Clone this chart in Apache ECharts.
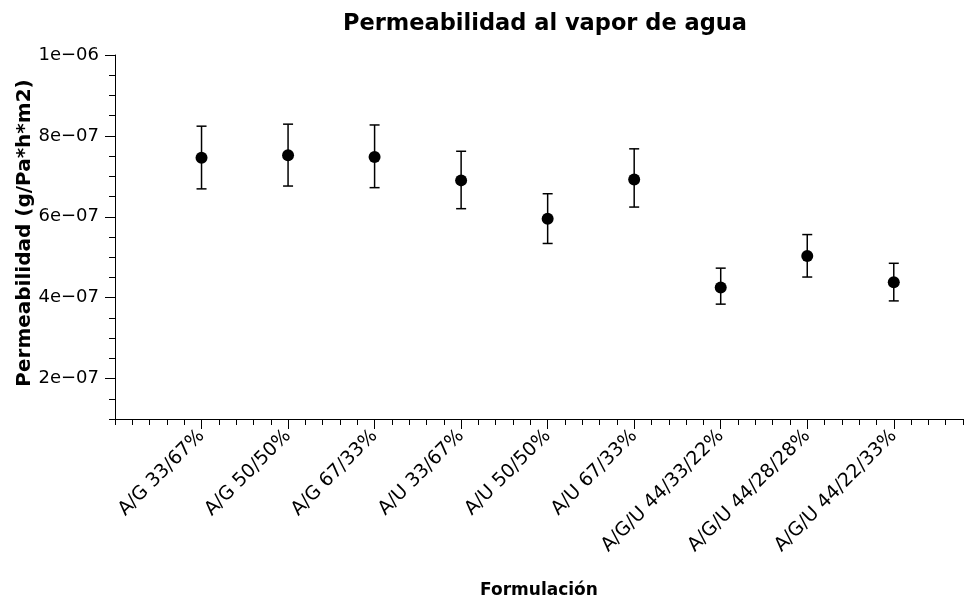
<!DOCTYPE html>
<html>
<head>
<meta charset="utf-8">
<script src="https://cdn.jsdelivr.net/npm/echarts@6/dist/echarts.min.js"></script>
<style>
  html, body { margin: 0; padding: 0; background: #fff; }
  #chart { width: 969px; height: 602px; }
</style>
</head>
<body>
<div id="chart"></div>
<script>
const categories = [
  'A/G 33/67%', 'A/G 50/50%', 'A/G 67/33%',
  'A/U 33/67%', 'A/U 50/50%', 'A/U 67/33%',
  'A/G/U 44/33/22%', 'A/G/U 44/28/28%', 'A/G/U 44/22/33%'
]
const means = [7.46e-7, 7.52e-7, 7.48e-7, 6.90e-7, 5.95e-7, 6.92e-7, 4.25e-7, 5.03e-7, 4.38e-7]
const upper = [8.24e-7, 8.29e-7, 8.27e-7, 7.62e-7, 6.57e-7, 7.68e-7, 4.73e-7, 5.56e-7, 4.85e-7]
const lower = [6.69e-7, 6.76e-7, 6.72e-7, 6.20e-7, 5.34e-7, 6.24e-7, 3.84e-7, 4.51e-7, 3.92e-7]
const yTicks = [2e-7, 4e-7, 6e-7, 8e-7, 1e-6]

const FONT = 'DejaVu Sans'
const xPos = categories.map((c, i) => i + 1)

// 2e-07 style, with a real minus sign
const sci = (v) => {
  const exp = Math.floor(Math.log10(v) + 1e-9)
  const mant = Math.round(v / Math.pow(10, exp))
  const e = Math.abs(exp)
  return mant + 'e' + (exp < 0 ? '\u2212' : '+') + (e < 10 ? '0' + e : e)
}

const chart = echarts.init(document.getElementById('chart'), null, { renderer: 'canvas' })

const tickLine = { lineStyle: { color: '#000', width: 1 } }

chart.setOption({
  animation: false,
  backgroundColor: '#fff',
  title: {
    text: 'Permeabilidad al vapor de agua',
    left: 540,
    top: 8,
    textAlign: 'center',
    textStyle: { fontFamily: FONT, fontSize: 22.5, fontWeight: 'bold', color: '#000' }
  },
  grid: { left: 115, top: 55, right: 6, bottom: 183, outerBoundsMode: 'none' },
  xAxis: [
    {
      type: 'value',
      min: 0,
      max: 9.8,
      interval: 1,
      position: 'bottom',
      name: 'Formulación',
      nameLocation: 'middle',
      nameGap: 163,
      nameTextStyle: { fontFamily: FONT, fontSize: 17, fontWeight: 'bold', color: '#000' },
      axisLine: { show: true, onZero: false, lineStyle: { color: '#000', width: 1 } },
      axisTick: { show: true, length: 10, customValues: xPos, ...tickLine },
      axisLabel: {
        customValues: xPos,
        rotate: 45,
        margin: 14,
        fontFamily: FONT,
        fontSize: 19,
        color: '#000',
        formatter: (v) => categories[Math.round(v) - 1] || ''
      },
      splitLine: { show: false }
    },
    {
      type: 'value',
      min: 0,
      max: 9.8,
      interval: 0.2,
      position: 'bottom',
      axisLine: { show: false },
      axisTick: { show: true, length: 6, ...tickLine },
      axisLabel: { show: false },
      splitLine: { show: false }
    }
  ],
  yAxis: [
    {
      type: 'value',
      min: 1e-7,
      max: 1e-6,
      interval: 1e-7,
      position: 'left',
      name: 'Permeabilidad (g/Pa*h*m2)',
      nameLocation: 'middle',
      nameGap: 80,
      nameMoveOverlap: false,
      nameTextStyle: { fontFamily: FONT, fontSize: 20, fontWeight: 'bold', color: '#000', padding: [0, 0, 0, 8] },
      axisLine: { show: true, onZero: false, lineStyle: { color: '#000', width: 1 } },
      axisTick: { show: true, length: 10, customValues: yTicks, ...tickLine },
      axisLabel: {
        customValues: yTicks,
        margin: 16,
        fontFamily: FONT,
        fontSize: 18,
        color: '#000',
        formatter: (v) => sci(v)
      },
      splitLine: { show: false }
    },
    {
      type: 'value',
      min: 1e-7,
      max: 1e-6,
      interval: 5e-8,
      position: 'left',
      offset: 0,
      axisLine: { show: false },
      axisTick: { show: true, length: 6, ...tickLine },
      axisLabel: { show: false },
      splitLine: { show: false }
    }
  ],
  series: [
    {
      type: 'custom',
      xAxisIndex: 0,
      yAxisIndex: 0,
      data: xPos.map((x, i) => [x, lower[i], upper[i]]),
      encode: { x: 0, y: [1, 2] },
      renderItem: (params, api) => {
        const x = api.value(0)
        const lo = api.coord([x, api.value(1)])
        const hi = api.coord([x, api.value(2)])
        const cap = 5
        const style = { stroke: '#000', lineWidth: 1.5 }
        return {
          type: 'group',
          children: [
            { type: 'line', shape: { x1: hi[0], y1: hi[1], x2: lo[0], y2: lo[1] }, style },
            { type: 'line', shape: { x1: hi[0] - cap, y1: hi[1], x2: hi[0] + cap, y2: hi[1] }, style },
            { type: 'line', shape: { x1: lo[0] - cap, y1: lo[1], x2: lo[0] + cap, y2: lo[1] }, style }
          ]
        }
      },
      z: 2
    },
    {
      type: 'scatter',
      xAxisIndex: 0,
      yAxisIndex: 0,
      data: xPos.map((x, i) => [x, means[i]]),
      symbol: 'circle',
      symbolSize: 12,
      itemStyle: { color: '#000', opacity: 1 },
      z: 3
    }
  ]
})

window.addEventListener('resize', () => {
  chart.resize()
})
</script>
</body>
</html>
